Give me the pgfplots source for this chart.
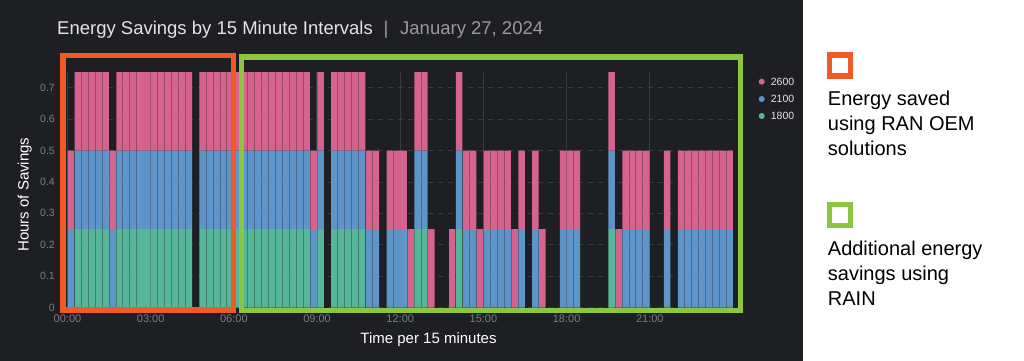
\documentclass[border=0pt]{standalone}
\usepackage{fontspec}
\setmainfont{Liberation Sans}
\usepackage{pgfplots}
\usepackage{pgfplotstable}
\pgfplotsset{compat=1.18}
\definecolor{panel}{HTML}{1E1F23}
\definecolor{cpink}{HTML}{D6628E}
\definecolor{cblue}{HTML}{5E95C8}
\definecolor{cgreen}{HTML}{55B797}
\definecolor{gridc}{HTML}{393B41}
\definecolor{tickc}{HTML}{7C7D80}
\definecolor{boxor}{HTML}{F05A28}
\definecolor{boxgr}{HTML}{8CC63F}
\definecolor{titlec}{HTML}{E4E4E4}
\definecolor{datec}{HTML}{9A9A9A}

\pgfplotstableread{
x a b c
0 0 .25 .25
1 .25 .25 .25
2 .25 .25 .25
3 .25 .25 .25
4 .25 .25 .25
5 .25 .25 .25
6 0 .25 .25
7 .25 .25 .25
8 .25 .25 .25
9 .25 .25 .25
10 .25 .25 .25
11 .25 .25 .25
12 .25 .25 .25
13 .25 .25 .25
14 .25 .25 .25
15 .25 .25 .25
16 .25 .25 .25
17 .25 .25 .25
18 0 0 0
19 .25 .25 .25
20 .25 .25 .25
21 .25 .25 .25
22 .25 .25 .25
23 .25 .25 .25
24 .25 .25 .25
25 .25 .25 .25
26 .25 .25 .25
27 .25 .25 .25
28 .25 .25 .25
29 .25 .25 .25
30 .25 .25 .25
31 .25 .25 .25
32 .25 .25 .25
33 .25 .25 .25
34 .25 .25 .25
35 0 .25 .25
36 .25 .25 .25
37 0 0 0
38 .25 .25 .25
39 .25 .25 .25
40 .25 .25 .25
41 .25 .25 .25
42 .25 .25 .25
43 0 .25 .25
44 0 .25 .25
45 0 0 0
46 0 .25 .25
47 0 .25 .25
48 0 .25 .25
49 0 0 .25
50 .25 .25 .25
51 .25 .25 .25
52 0 0 .25
53 0 0 0
54 0 0 0
55 0 0 .25
56 .25 .25 .25
57 0 .25 .25
58 0 .25 .25
59 0 0 .25
60 0 .25 .25
61 0 .25 .25
62 0 .25 .25
63 0 .25 .25
64 0 0 .25
65 0 .25 .25
66 0 0 0
67 0 .25 .25
68 0 0 .25
69 0 0 0
70 0 0 0
71 0 .25 .25
72 0 .25 .25
73 0 .25 .25
74 0 0 0
75 0 0 0
76 0 0 0
77 0 0 0
78 .25 .25 .25
79 0 0 .25
80 0 .25 .25
81 0 .25 .25
82 0 .25 .25
83 0 .25 .25
84 0 0 0
85 0 0 0
86 0 .25 .25
87 0 0 0
88 0 .25 .25
89 0 .25 .25
90 0 .25 .25
91 0 .25 .25
92 0 .25 .25
93 0 .25 .25
94 0 .25 .25
95 0 .25 .25
}\data

\begin{document}
\begin{tikzpicture}
\useasboundingbox (0,0) rectangle (1024bp,361bp);
\fill[white] (0,0) rectangle (1024bp,361bp);
\fill[panel] (0,0) rectangle (803bp,361bp);
\begin{axis}[
  at={(67.5bp,53.5bp)}, anchor=south west,
  scale only axis, width=665.5bp, height=235.5bp,
  xmin=-0.5, xmax=95.5, ymin=0, ymax=0.75,
  ybar stacked, bar width=0.93,
  axis line style={draw=none}, major tick length=0pt,
  xtick={-0.5,11.5,23.5,35.5,47.5,59.5,71.5,83.5},
  xticklabels={00:00,03:00,06:00,09:00,12:00,15:00,18:00,21:00},
  ytick={0,0.1,0.2,0.3,0.4,0.5,0.6,0.7},
  yticklabels={0,0.1,0.2,0.3,0.4,0.5,0.6,0.7},
  /pgf/number format/assume math mode=true,
  xticklabel style={anchor=north, inner sep=0pt, yshift=-7.5bp, text=tickc, font=\fontsize{11bp}{13bp}\selectfont},
  yticklabel style={anchor=east, inner sep=0pt, xshift=-12.5bp, text=tickc, font=\fontsize{10.5bp}{12bp}\selectfont},
  xmajorgrids, ymajorgrids,
  x grid style={gridc, line width=1.3bp},
  y grid style={gridc, dash pattern=on 5bp off 5bp, line width=0.8bp},
]
\addplot[fill=cgreen, draw=none] table[x=x,y=a]{\data};
\addplot[fill=cblue, draw=none] table[x=x,y=b]{\data};
\addplot[fill=cpink, draw=none] table[x=x,y=c]{\data};
\end{axis}
% boxes
\draw[boxor, line width=5.4bp] (63bp,51bp) rectangle (233.5bp,305.6bp);
\draw[boxgr, line width=5.6bp] (241.3bp,50.5bp) rectangle (740.5bp,304bp);
% legend
\fill[cpink] (761.7bp,279.3bp) circle (3bp);
\fill[cblue] (761.7bp,262bp) circle (3bp);
\fill[cgreen] (761.7bp,245bp) circle (3bp);
\node[anchor=west, inner sep=0pt, text=titlec, font=\fontsize{10.5bp}{12bp}\selectfont] at (770.7bp,279.3bp) {2600};
\node[anchor=west, inner sep=0pt, text=titlec, font=\fontsize{10.5bp}{12bp}\selectfont] at (770.7bp,262bp) {2100};
\node[anchor=west, inner sep=0pt, text=titlec, font=\fontsize{10.5bp}{12bp}\selectfont] at (770.7bp,245bp) {1800};
% title
\node[anchor=base west, inner sep=0pt, text=titlec, font=\fontsize{18.5bp}{22bp}\selectfont] at (57bp,326bp) {Energy Savings by 15 Minute Intervals};
\node[anchor=base, inner sep=0pt, text=datec, font=\fontsize{18.5bp}{22bp}\selectfont] at (386bp,326bp) {|};
\node[anchor=base west, inner sep=0pt, text=datec, font=\fontsize{18.5bp}{22bp}\selectfont] at (400bp,326bp) {January 27, 2024};
% axis labels
\node[rotate=90, anchor=base, inner sep=0pt, text=white, font=\fontsize{15bp}{18bp}\selectfont] at (28.5bp,166.4bp) {Hours of Savings};
\node[anchor=base, inner sep=0pt, text=white, font=\fontsize{15bp}{18bp}\selectfont] at (428.5bp,18bp) {Time per 15 minutes};
% right side
\draw[boxor, line width=5.5bp] (829.5bp,285bp) rectangle (850.5bp,306bp);
\begin{scope}[every node/.style={anchor=base west, inner sep=0pt, text=black, font=\fontsize{20bp}{24bp}\selectfont}]
\node at (827.7bp,255bp) {Energy saved};
\node at (827.7bp,230bp) {using RAN OEM};
\node at (827.7bp,205bp) {solutions};
\node at (827.7bp,105bp) {Additional energy};
\node at (827.7bp,80bp) {savings using};
\node at (827.7bp,55bp) {RAIN};
\end{scope}
\draw[boxgr, line width=5.5bp] (829.5bp,135.5bp) rectangle (850.5bp,156.5bp);
\end{tikzpicture}
\end{document}
